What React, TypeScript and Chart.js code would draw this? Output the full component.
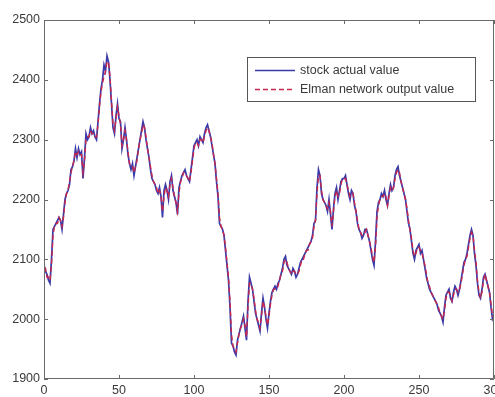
import { useEffect, useRef } from "react";
import { Chart, registerables } from "chart.js";

Chart.register(...registerables);

// stock actual value, one sample per time step (0..300)
const actualValues = [
  2090, 2080, 2075, 2065, 2060, 2100, 2150, 2155, 2160, 2165,
  2170, 2165, 2150, 2175, 2200, 2210, 2215, 2225, 2250, 2255,
  2265, 2285, 2270, 2285, 2275, 2280, 2235, 2270, 2310, 2300,
  2305, 2320, 2310, 2315, 2305, 2300, 2330, 2360, 2385, 2400,
  2425, 2415, 2440, 2430, 2400, 2360, 2320, 2310, 2340, 2360,
  2335, 2330, 2285, 2300, 2320, 2300, 2275, 2260, 2250, 2260,
  2240, 2255, 2270, 2285, 2300, 2315, 2330, 2320, 2300, 2285,
  2270, 2250, 2235, 2230, 2225, 2215, 2210, 2220, 2205, 2170,
  2215, 2225, 2215, 2200, 2230, 2240, 2215, 2205, 2195, 2175,
  2220, 2230, 2240, 2245, 2250, 2240, 2235, 2230, 2250, 2270,
  2290, 2295, 2300, 2290, 2305, 2300, 2295, 2310, 2320, 2325,
  2315, 2305, 2290, 2275, 2260, 2230, 2205, 2160, 2155, 2150,
  2140, 2115, 2090, 2065, 2020, 1960, 1955, 1945, 1940, 1965,
  1975, 1985, 1995, 2005, 1985, 1965, 2030, 2070, 2060, 2050,
  2030, 2010, 2000, 1990, 1980, 2010, 2035, 2020, 2000, 1985,
  2010, 2030, 2045, 2050, 2055, 2050, 2060, 2065, 2075, 2085,
  2100, 2105, 2090, 2085, 2080, 2075, 2085, 2080, 2070, 2075,
  2085, 2095, 2100, 2105, 2110, 2115, 2120, 2125, 2130, 2140,
  2160, 2165, 2220, 2250, 2240, 2210, 2200, 2195, 2190, 2180,
  2200, 2175, 2150, 2185, 2210, 2220, 2200, 2215, 2230, 2235,
  2235, 2240, 2225, 2210, 2200, 2215, 2210, 2190, 2180, 2160,
  2150, 2145, 2135, 2140, 2150, 2150, 2140, 2130, 2115, 2100,
  2090, 2130, 2180, 2195, 2200, 2210, 2205, 2215, 2200, 2190,
  2210, 2225, 2215, 2220, 2240, 2250, 2255, 2240, 2230, 2220,
  2210, 2200, 2180, 2160, 2150, 2130, 2110, 2100, 2115, 2120,
  2125, 2110, 2115, 2100, 2085, 2070, 2060, 2050, 2045, 2040,
  2035, 2030, 2025, 2015, 2010, 2005, 1995, 2020, 2040, 2045,
  2050, 2035, 2030, 2045, 2055, 2050, 2040, 2050, 2065, 2080,
  2095, 2100, 2110, 2125, 2140, 2150, 2140, 2110, 2090, 2060,
  2040, 2035, 2050, 2070, 2075, 2065, 2055, 2045, 2020, 2000,
  2005,
];

// Elman network output value
const elmanValues = [
  2085, 2085, 2070, 2070, 2065, 2090, 2140, 2155, 2160, 2160,
  2170, 2165, 2155, 2170, 2195, 2210, 2215, 2230, 2245, 2255,
  2265, 2280, 2275, 2280, 2275, 2275, 2245, 2265, 2300, 2305,
  2305, 2315, 2310, 2310, 2305, 2305, 2325, 2355, 2380, 2395,
  2405, 2415, 2430, 2430, 2405, 2365, 2325, 2315, 2335, 2355,
  2340, 2325, 2290, 2300, 2315, 2300, 2280, 2260, 2255, 2255,
  2245, 2255, 2265, 2285, 2300, 2310, 2325, 2320, 2305, 2285,
  2270, 2255, 2240, 2230, 2225, 2220, 2210, 2215, 2205, 2180,
  2205, 2220, 2215, 2205, 2225, 2235, 2220, 2205, 2195, 2180,
  2210, 2230, 2235, 2245, 2245, 2240, 2235, 2230, 2245, 2265,
  2285, 2295, 2295, 2290, 2300, 2300, 2295, 2305, 2315, 2320,
  2315, 2305, 2295, 2275, 2260, 2235, 2210, 2170, 2155, 2150,
  2140, 2120, 2095, 2070, 2030, 1975, 1955, 1950, 1945, 1960,
  1975, 1985, 1990, 2000, 1990, 1970, 2020, 2060, 2060, 2050,
  2035, 2015, 2000, 1995, 1985, 2005, 2030, 2020, 2005, 1990,
  2005, 2025, 2040, 2050, 2050, 2050, 2055, 2065, 2075, 2080,
  2095, 2100, 2095, 2085, 2080, 2075, 2080, 2080, 2075, 2075,
  2080, 2090, 2100, 2100, 2110, 2115, 2115, 2125, 2130, 2135,
  2155, 2165, 2210, 2240, 2240, 2215, 2200, 2195, 2190, 2185,
  2195, 2180, 2155, 2180, 2205, 2215, 2205, 2210, 2225, 2235,
  2235, 2235, 2225, 2215, 2205, 2210, 2210, 2195, 2180, 2165,
  2150, 2145, 2140, 2140, 2145, 2150, 2140, 2130, 2120, 2105,
  2095, 2120, 2170, 2190, 2200, 2205, 2205, 2210, 2205, 2190,
  2205, 2220, 2215, 2220, 2235, 2245, 2250, 2245, 2230, 2220,
  2210, 2200, 2185, 2165, 2150, 2135, 2115, 2105, 2110, 2120,
  2120, 2115, 2110, 2100, 2090, 2075, 2060, 2055, 2045, 2040,
  2035, 2030, 2025, 2020, 2010, 2005, 2000, 2015, 2035, 2045,
  2045, 2040, 2030, 2040, 2050, 2050, 2045, 2050, 2060, 2075,
  2090, 2100, 2105, 2120, 2135, 2145, 2140, 2115, 2095, 2065,
  2045, 2035, 2045, 2065, 2075, 2065, 2055, 2045, 2025, 2005,
  2005,
];

const sampleIndex = actualValues.map((_, i) => i);
const xTickValues = [0, 50, 100, 150, 200, 250, 300];
const yTickValues = [1900, 2000, 2100, 2200, 2300, 2400, 2500];
const seriesLabels = ["stock actual value", "Elman network output value"];

const FONT = "'Liberation Sans', Arial, sans-serif";
const AXIS_COLOR = "#6a6a6a";
const TEXT_COLOR = "#3a3a3a";
const BLUE = "#3a3aa8";
const RED = "#c8284e";

const framePlugin = {
  id: "matlabFrame",
  afterDraw(chart: any) {
    const { ctx, chartArea: a, scales } = chart;
    const xs = scales.x;
    const ys = scales.y;
    ctx.save();
    ctx.strokeStyle = AXIS_COLOR;
    ctx.lineWidth = 1;
    ctx.beginPath();
    ctx.rect(Math.round(a.left) + 0.5, Math.round(a.top) + 0.5, Math.round(a.right - a.left) - 1, Math.round(a.bottom - a.top) - 1);
    const tl = 4;
    for (const v of xTickValues) {
      const px = Math.round(xs.getPixelForValue(v)) + 0.5;
      ctx.moveTo(px, a.bottom);
      ctx.lineTo(px, a.bottom - tl);
      ctx.moveTo(px, a.top);
      ctx.lineTo(px, a.top + tl);
    }
    for (const v of yTickValues) {
      const py = Math.round(ys.getPixelForValue(v)) + 0.5;
      ctx.moveTo(a.left, py);
      ctx.lineTo(a.left + tl, py);
      ctx.moveTo(a.right, py);
      ctx.lineTo(a.right - tl, py);
    }
    ctx.stroke();

    // legend box
    const lx = a.left + 203;
    const ly = a.top + 37;
    const lw = 228;
    const lh = 44;
    ctx.fillStyle = "#ffffff";
    ctx.fillRect(lx, ly, lw, lh);
    ctx.strokeStyle = "#555555";
    ctx.strokeRect(lx + 0.5, ly + 0.5, lw, lh);
    const ds = chart.data.datasets;
    ctx.font = `12.5px ${FONT}`;
    ctx.textBaseline = "middle";
    ctx.textAlign = "left";
    const rows = [ly + 13, ly + 32];
    ds.forEach((d: any, i: number) => {
      const y = Math.round(rows[i]) + 0.5;
      ctx.beginPath();
      ctx.strokeStyle = d.borderColor;
      ctx.lineWidth = 1.3;
      ctx.setLineDash(d.borderDash || []);
      ctx.moveTo(lx + 8, y);
      ctx.lineTo(lx + 48, y);
      ctx.stroke();
      ctx.setLineDash([]);
      ctx.fillStyle = TEXT_COLOR;
      ctx.fillText(d.label, lx + 53, y);
    });
    ctx.restore();
  },
};

export default function App() {
  const canvasRef = useRef<HTMLCanvasElement | null>(null);

  useEffect(() => {
    const canvas = canvasRef.current;
    if (!canvas) return;
    const chart = new Chart(canvas, {
      type: "line",
      data: {
        labels: sampleIndex,
        datasets: [
          {
            label: seriesLabels[0],
            data: actualValues,
            borderColor: BLUE,
            borderWidth: 1.7,
            pointRadius: 0,
            tension: 0,
            order: 1,
          },
          {
            label: seriesLabels[1],
            data: elmanValues,
            borderColor: RED,
            borderWidth: 1.4,
            borderDash: [5, 3],
            pointRadius: 0,
            tension: 0,
            order: 0,
          },
        ],
      },
      options: {
        animation: false,
        responsive: false,
        devicePixelRatio: 1,
        layout: { padding: { top: 20, right: 26, bottom: 0, left: 0 } },
        plugins: {
          legend: { display: false },
          tooltip: { enabled: false },
        },
        scales: {
          x: {
            type: "linear",
            min: 0,
            max: 300,
            afterBuildTicks: (scale: any) => {
              scale.ticks = xTickValues.map((v) => ({ value: v }));
            },
            afterFit: (scale: any) => {
              scale.height = 18;
            },
            grid: { display: false, drawTicks: false },
            border: { display: false },
            ticks: {
              padding: 4,
              color: TEXT_COLOR,
              font: { family: FONT, size: 12.5 },
              maxRotation: 0,
              autoSkip: false,
              callback: (v: any) => String(v),
            },
          },
          y: {
            type: "linear",
            min: 1900,
            max: 2500,
            afterBuildTicks: (scale: any) => {
              scale.ticks = yTickValues.map((v) => ({ value: v }));
            },
            afterFit: (scale: any) => {
              scale.width = 44;
            },
            grid: { display: false, drawTicks: false },
            border: { display: false },
            ticks: {
              padding: 4,
              color: TEXT_COLOR,
              font: { family: FONT, size: 12.5 },
              autoSkip: false,
              callback: (v: any) => String(v),
            },
          },
        },
      },
      plugins: [framePlugin],
    });
    return () => chart.destroy();
  }, []);

  return (
    <div style={{ position: "fixed", left: 0, top: 0, width: 520, height: 397, background: "#fff" }}>
      <canvas ref={canvasRef} width={520} height={397} style={{ display: "block" }} />
    </div>
  );
}
